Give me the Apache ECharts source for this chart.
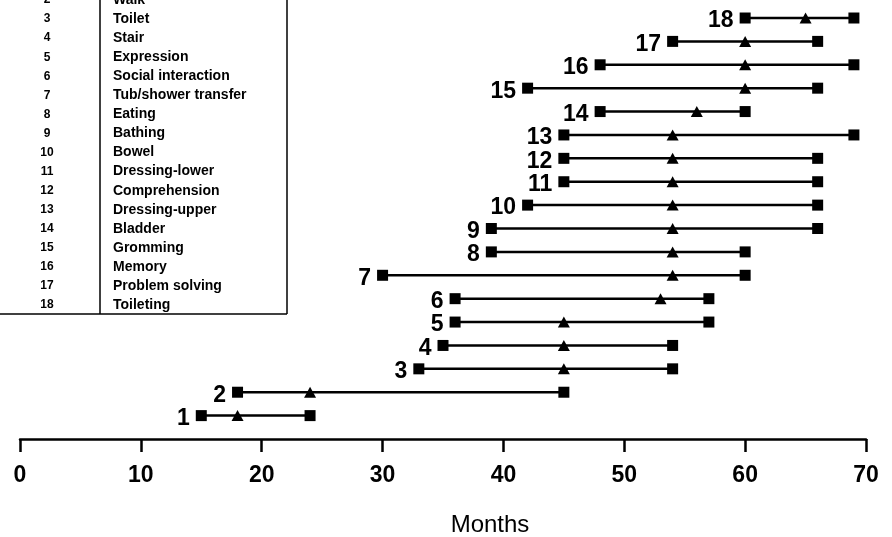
<!DOCTYPE html>
<html lang="en">
<head>
<meta charset="utf-8">
<title>Months</title>
<script src="https://cdn.jsdelivr.net/npm/echarts@6/dist/echarts.min.js"></script>
<style>
  html, body { margin: 0; padding: 0; background: #fff; }
  #chartDiv { width: 892px; height: 537px; }
</style>
</head>
<body>
<div id="chartDiv"></div>
<script type="text/javascript">
// milestone rows, 1 at bottom
var rows = [1, 2, 3, 4, 5, 6, 7, 8, 9, 10, 11, 12, 13, 14, 15, 16, 17, 18];
var startMonth = [15, 18, 33, 35, 36, 36, 30, 39, 39, 42, 45, 45, 45, 48, 42, 48, 54, 60];
var midMonth   = [18, 24, 45, 45, 45, 53, 54, 54, 54, 54, 54, 54, 54, 56, 60, 60, 60, 65];
var endMonth   = [24, 45, 54, 54, 57, 57, 60, 60, 66, 66, 66, 66, 69, 60, 66, 69, 66, 69];

// key table (row 1 is cut off in the picture)
var keyNumbers = [2, 3, 4, 5, 6, 7, 8, 9, 10, 11, 12, 13, 14, 15, 16, 17, 18];
var keyNames = ['Walk', 'Toilet', 'Stair', 'Expression', 'Social interaction',
  'Tub/shower transfer', 'Eating', 'Bathing', 'Bowel', 'Dressing-lower',
  'Comprehension', 'Dressing-upper', 'Bladder', 'Gromming', 'Memory',
  'Problem solving', 'Toileting'];

var xTicks = [0, 10, 20, 30, 40, 50, 60, 70];

var chart = echarts.init(document.getElementById('chartDiv'));

var segData = [], startData = [], midData = [], endData = [];
for (var i = 0; i < rows.length; i++) {
  segData.push([startMonth[i], endMonth[i], rows[i]]);
  startData.push([startMonth[i], rows[i]]);
  midData.push([midMonth[i], rows[i]]);
  endData.push([endMonth[i], rows[i]]);
}

// table drawn with graphic elements
var tableTop = 0, rowH = 19.07;
var keyGraphics = [
  { type: 'line', shape: { x1: 100, y1: 0, x2: 100, y2: 314 }, style: { stroke: '#000', lineWidth: 1.5 } },
  { type: 'line', shape: { x1: 287, y1: 0, x2: 287, y2: 314 }, style: { stroke: '#000', lineWidth: 1.5 } },
  { type: 'line', shape: { x1: 0, y1: 314, x2: 287, y2: 314 }, style: { stroke: '#000', lineWidth: 1.5 } }
];
keyNumbers.forEach(function (n, k) {
  var y = tableTop + k * rowH;
  keyGraphics.push({
    type: 'text', x: 47, y: y,
    style: { text: String(n), fill: '#000', font: 'bold 12px "Liberation Sans", Arial, sans-serif',
      align: 'center', verticalAlign: 'middle' }
  });
  keyGraphics.push({
    type: 'text', x: 113, y: y,
    style: { text: keyNames[k], fill: '#000', font: 'bold 14px "Liberation Sans", Arial, sans-serif',
      align: 'left', verticalAlign: 'middle' }
  });
});

var option = {
  animation: false,
  backgroundColor: '#fff',
  textStyle: { fontFamily: '"Liberation Sans", Arial, sans-serif' },
  grid: { left: 20, right: 26, top: 0, bottom: 98, outerBoundsMode: 'none', containLabel: false },
  xAxis: {
    type: 'value',
    min: 0, max: 70, interval: 10,
    name: 'Months',
    nameLocation: 'middle',
    nameGap: 74,
    nameTextStyle: { fontSize: 24, color: '#000', padding: [0, 0, 0, 94] },
    axisLine: { show: true, lineStyle: { color: '#000', width: 2.5 } },
    axisTick: { show: true, length: 13, lineStyle: { color: '#000', width: 2.5 } },
    axisLabel: {
      color: '#000', fontSize: 23, fontWeight: 'bold', margin: 25,
      formatter: function (v) { return xTicks.indexOf(v) >= 0 ? String(v) : ''; }
    },
    splitLine: { show: false }
  },
  yAxis: {
    type: 'value', min: 0, max: 18.77,
    show: false, splitLine: { show: false }
  },
  graphic: keyGraphics,
  series: [
    {
      type: 'custom',
      data: segData,
      z: 1,
      renderItem: function (params, api) {
        var p1 = api.coord([api.value(0), api.value(2)]);
        var p2 = api.coord([api.value(1), api.value(2)]);
        return {
          type: 'line',
          shape: { x1: p1[0], y1: p1[1], x2: p2[0], y2: p2[1] },
          style: { stroke: '#000', lineWidth: 2.5 }
        };
      }
    },
    {
      type: 'scatter',
      data: startData,
      symbol: 'rect', symbolSize: 11,
      itemStyle: { color: '#000', opacity: 1 },
      z: 3,
      label: {
        show: true, position: 'left', distance: 6, offset: [0, 3],
        color: '#000', fontSize: 23, fontWeight: 'bold',
        formatter: function (p) { return String(p.value[1]); }
      }
    },
    {
      type: 'scatter',
      data: endData,
      symbol: 'rect', symbolSize: 11,
      itemStyle: { color: '#000', opacity: 1 },
      z: 3
    },
    {
      type: 'scatter',
      data: midData,
      symbol: 'triangle', symbolSize: [12, 11],
      itemStyle: { color: '#000', opacity: 1 },
      z: 3
    }
  ]
};

chart.setOption(option);
</script>
</body>
</html>
